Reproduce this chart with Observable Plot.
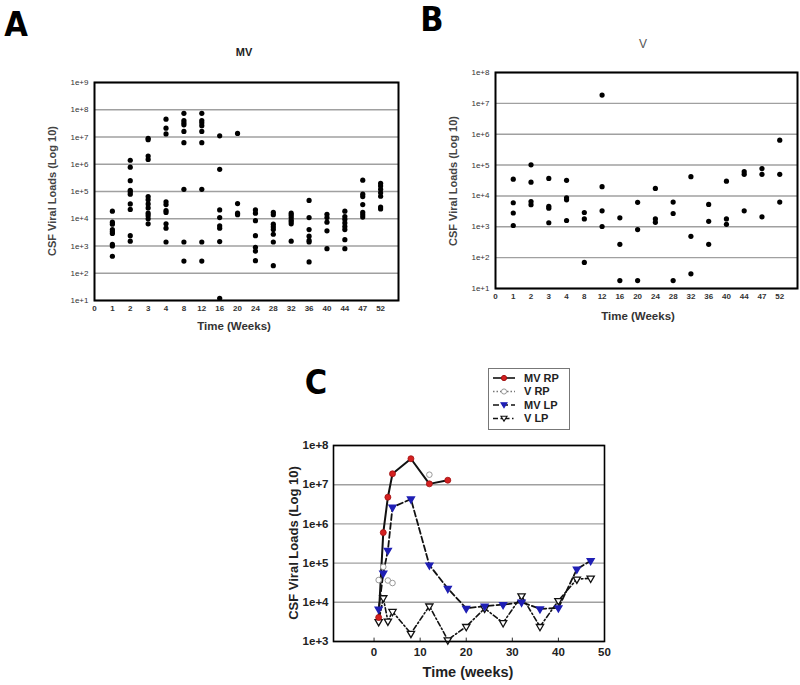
<!DOCTYPE html>
<html><head><meta charset="utf-8">
<script src="https://cdn.jsdelivr.net/npm/d3@7"></script>
<script src="https://cdn.jsdelivr.net/npm/@observablehq/plot@0.6"></script>
<style>
body{margin:0;background:#fff;font-family:"Liberation Sans",Arial,sans-serif;}
#page{position:relative;width:800px;height:685px;overflow:hidden;background:#fff;}
.abs{position:absolute;white-space:nowrap;line-height:1;}
.letter{font-family:"Liberation Sans Narrow","DejaVu Sans Condensed","Liberation Sans",sans-serif;font-weight:bold;font-size:34px;color:#000;}
</style></head><body><div id="page"></div>
<script>
// ---------- DATA ----------
const weekLabels = ["0","1","2","3","4","8","12","16","20","24","28","32","36","40","44","47","52"];
const scatterWeeks = [1,2,3,4,8,12,16,20,24,28,32,36,40,44,47,52];
const yTicksA = [1e1,1e2,1e3,1e4,1e5,1e6,1e7,1e8,1e9];
const yTicksB = [1e1,1e2,1e3,1e4,1e5,1e6,1e7,1e8];
const yTicksC = [1e3,1e4,1e5,1e6,1e7,1e8];
const xTicksC = [0,10,20,30,40,50];

// Panel A (MV): CSF viral loads per week
const mvLoads = [
  [19000,7500,6300,4000,3400,2900,1150,1000,420],
  [1.4e6,7.8e5,2.5e5,1.1e5,9.5e4,8e4,3.5e4,2.2e4,2400,1500],
  [9e6,8e6,2e6,1.5e6,6.5e4,5e4,3.5e4,2.5e4,1.6e4,1.3e4,1e4,6500],
  [4.5e7,2.1e7,1.3e7,4.2e4,3.3e4,2e4,1.7e4,6500,4500,1400],
  [7.4e7,4e7,3.3e7,2.8e7,1.6e7,6.2e6,1.2e5,1400,280],
  [7.4e7,4e7,3.3e7,2.6e7,1.6e7,6.2e6,1.2e5,1400,280],
  [1.1e7,6.5e5,2.1e4,1.1e4,5500,4500,1450,12],
  [1.35e7,3.6e4,1.6e4,1.4e4],
  [2.1e4,1.6e4,8500,2400,900,650,290],
  [1.7e4,1.4e4,6300,5000,4000,2700,1400,190],
  [1.6e4,1.35e4,1.1e4,9000,7800,6500,1500],
  [4.7e4,1.1e4,4000,2300,1600,1400,260],
  [1.45e4,1.1e4,7500,3600,800],
  [1.9e4,1.2e4,9500,7000,5200,4000,1700,800],
  [2.6e5,8e4,6.5e4,3.3e4,1.7e4,1.4e4,1.15e4],
  [2e5,1.6e5,1.2e5,9e4,6.7e4,2.7e4,2.3e4]
];
// Panel B (V)
const vLoads = [
  [3.5e4,6000,2800,1100],
  [1.02e5,2.8e4,6600,5200],
  [3.7e4,4600,4000,1350],
  [3.2e4,8700,7500,1600],
  [2900,1800,70],
  [1.85e7,2e4,3300,1020],
  [1950,270,18],
  [6200,810,18],
  [1.75e4,1800,1400],
  [6300,2700,18],
  [4.2e4,490,30],
  [5300,1500,270],
  [3e4,1800,1200],
  [6.1e4,5e4,3300],
  [7.7e4,5e4,2100],
  [6.4e5,5e4,6300]
];
// Panel C: mean loads (weeks, values)
const mvRPWeeks = [1,2,3,4,8,12,16];
const mvRP      = [4.1e3,6e5,4.8e6,1.9e7,4.6e7,1.05e7,1.3e7];
const vRPWeeks  = [1,2,3,4,12];
const vRP       = [3.7e4,8e4,3.6e4,3.1e4,1.8e7];
const mvLPWeeks = [1,2,3,4,8,12,16,20,24,28,32,36,40,44,47];
const mvLP      = [6.7e3,5.5e4,2.1e5,2.65e6,4.3e6,8.9e4,2.25e4,7e3,8e3,8.7e3,1e4,6.8e3,7.2e3,7e4,1.15e5];
const vLPWeeks  = [1,2,3,4,8,12,16,20,24,28,32,36,40,44,47];
const vLP       = [3.2e3,1.3e4,3.3e3,5.8e3,1.6e3,8e3,1.1e3,2.4e3,7e3,3e3,1.45e4,2.4e3,1.1e4,3.9e4,4.1e4];

const seriesNames = ["MV RP","V RP","MV LP","V LP"];

// ---------- helpers ----------
const page = document.getElementById("page");
function place(node, left, top){ node.style.position="absolute"; node.style.left=left+"px"; node.style.top=top+"px"; page.appendChild(node); }
function text(str, x, y, css, rotate){
  const d=document.createElement("div"); d.className="abs"; d.textContent=str;
  Object.assign(d.style, css||{});
  d.style.left=x+"px"; d.style.top=y+"px";
  d.style.transform="translate(-50%,-50%)"+(rotate?" rotate(-90deg)":"");
  page.appendChild(d);
}
const fmtE = d => "1e+" + Math.round(Math.log10(d));
const toTable = (loads) => scatterWeeks.flatMap((w,i)=>loads[i].map(v=>({pos: weekLabels.indexOf(String(w)), v})));

function scatter(loads, yTicks, W, H, m){
  return Plot.plot({
    width:W, height:H, marginLeft:m[0], marginRight:m[1], marginTop:m[2], marginBottom:m[3],
    style:{fontFamily:"Liberation Sans, Arial, sans-serif", fontSize:"8px", color:"#333", background:"transparent", overflow:"visible"},
    x:{domain:[0,17]},
    y:{type:"log", domain:[yTicks[0], yTicks[yTicks.length-1]]},
    marks:[
      Plot.ruleY(yTicks,{stroke:"#a0a0a0", strokeWidth:1.4}),
      Plot.axisY(yTicks,{tickSize:0, tickPadding:6, tickFormat:fmtE, label:null}),
      Plot.axisX(d3.range(17),{tickSize:0, tickPadding:5, tickFormat:i=>weekLabels[i], label:null, fontWeight:"bold"}),
      Plot.dot(toTable(loads),{x:"pos", y:"v", r:2.6, fill:"#000", stroke:"none"}),
      Plot.frame({stroke:"#000", strokeWidth:2})
    ]
  });
}

// ---------- Panel A ----------
place(scatter(mvLoads, yTicksA, 400, 300, [94,2,42,40]), 0, 40);
text("MV", 244, 52, {fontWeight:"bold", fontSize:"11px", color:"#222"});
text("CSF Viral Loads (Log 10)", 52, 191, {fontWeight:"bold", fontSize:"11px", color:"#444"}, true);
text("Time (Weeks)", 234, 327, {fontWeight:"bold", fontSize:"11.5px", color:"#333"});
text("A", 16, 24, {}); page.lastChild.className="abs letter";

// ---------- Panel B ----------
place(scatter(vLoads, yTicksB, 400, 300, [95,3,32,52]), 400, 40);
text("V", 643, 44, {fontSize:"12px", color:"#555"});
text("CSF Viral Loads (Log 10)", 453, 181, {fontWeight:"bold", fontSize:"11px", color:"#444"}, true);
text("Time (Weeks)", 638, 317, {fontWeight:"bold", fontSize:"11.5px", color:"#333"});
text("B", 432, 19, {}); page.lastChild.className="abs letter";

// ---------- Panel C ----------
const rows = (ws, vs) => ws.map((w,i)=>({w, v: vs[i]}));
const plotC = Plot.plot({
  width:340, height:265, marginLeft:53, marginRight:16, marginTop:25, marginBottom:44,
  style:{fontFamily:"Liberation Sans, Arial, sans-serif", fontSize:"11.5px", fontWeight:"bold", color:"#222", background:"transparent", overflow:"visible"},
  x:{domain:[-8.8,50]},
  y:{type:"log", domain:[1e3,1e8]},
  marks:[
    Plot.ruleY(yTicksC,{stroke:"#a0a0a0", strokeWidth:1.4}),
    Plot.ruleX(xTicksC,{y1:1e3, y2:1.22e3, stroke:"#333", strokeWidth:1}),
    Plot.axisY(yTicksC,{tickSize:0, tickPadding:5, tickFormat:fmtE, label:null}),
    Plot.axisX(xTicksC,{tickSize:0, tickPadding:6, label:null}),
    Plot.line(rows(vLPWeeks,vLP),{x:"w", y:"v", stroke:"#111", strokeWidth:1.6, strokeDasharray:"5,2.5,1.5,2.5"}),
    Plot.line(rows(mvLPWeeks,mvLP),{x:"w", y:"v", stroke:"#111", strokeWidth:1.8, strokeDasharray:"6,3"}),
    Plot.line(rows(mvRPWeeks,mvRP),{x:"w", y:"v", stroke:"#111", strokeWidth:2}),
    Plot.dot(rows(vLPWeeks,vLP),{x:"w", y:"v", symbol:"triangle", rotate:180, r:2.7, fill:"#fff", stroke:"#111", strokeWidth:1.3}),
    Plot.dot(rows(mvLPWeeks,mvLP),{x:"w", y:"v", symbol:"triangle", rotate:180, r:2.5, fill:"#1f1fb4", stroke:"#1f1fb4"}),
    Plot.dot(rows(vRPWeeks,vRP),{x:"w", y:"v", r:2.8, fill:"#fff", stroke:"#999", strokeWidth:1}),
    Plot.dot(rows(mvRPWeeks,mvRP),{x:"w", y:"v", r:3, fill:"#d42020", stroke:"#a01010", strokeWidth:0.8}),
    Plot.frame({stroke:"#000", strokeWidth:1.6})
  ]
});
place(plotC, 280, 420);
text("CSF Viral Loads (Log 10)", 293, 543, {fontWeight:"bold", fontSize:"13px", color:"#222"}, true);
text("Time (weeks)", 468, 672, {fontWeight:"bold", fontSize:"14.5px", color:"#222"});
text("C", 316, 382, {}); page.lastChild.className="abs letter";

// Legend for panel C
(function(){
  const W=82, H=62;
  const svg = d3.create("svg").attr("width",W).attr("height",H).style("overflow","visible");
  svg.append("rect").attr("x",0.5).attr("y",0.5).attr("width",W-1).attr("height",H-1).attr("fill","#fff").attr("stroke","#777");
  const styles = [
    {dash:null, stroke:"#111", sym:"circle", fill:"#d42020", mstroke:"#a01010"},
    {dash:"1.5,2", stroke:"#777", sym:"circle", fill:"#fff", mstroke:"#999"},
    {dash:"6,3", stroke:"#111", sym:"tri", fill:"#1f1fb4", mstroke:"#1f1fb4"},
    {dash:"5,2.5,1.5,2.5", stroke:"#111", sym:"tri", fill:"#fff", mstroke:"#111"}
  ];
  seriesNames.forEach((name,i)=>{
    const y = 10 + i*13.5, s = styles[i];
    const l = svg.append("line").attr("x1",5).attr("x2",27).attr("y1",y).attr("y2",y).attr("stroke",s.stroke).attr("stroke-width",1.6);
    if (s.dash) l.attr("stroke-dasharray", s.dash);
    if (s.sym==="circle") svg.append("circle").attr("cx",16).attr("cy",y).attr("r",2.6).attr("fill",s.fill).attr("stroke",s.mstroke);
    else svg.append("path").attr("d",`M${13},${y-2.2}L${19},${y-2.2}L16,${y+2.6}Z`).attr("fill",s.fill).attr("stroke",s.mstroke).attr("stroke-width",1.1);
    svg.append("text").attr("x",36).attr("y",y).attr("dy","0.35em").attr("font-family","Liberation Sans, Arial, sans-serif")
      .attr("font-size","11px").attr("font-weight","bold").attr("fill","#222").text(name);
  });
  place(svg.node(), 488, 368);
})();
</script>
</body></html>
